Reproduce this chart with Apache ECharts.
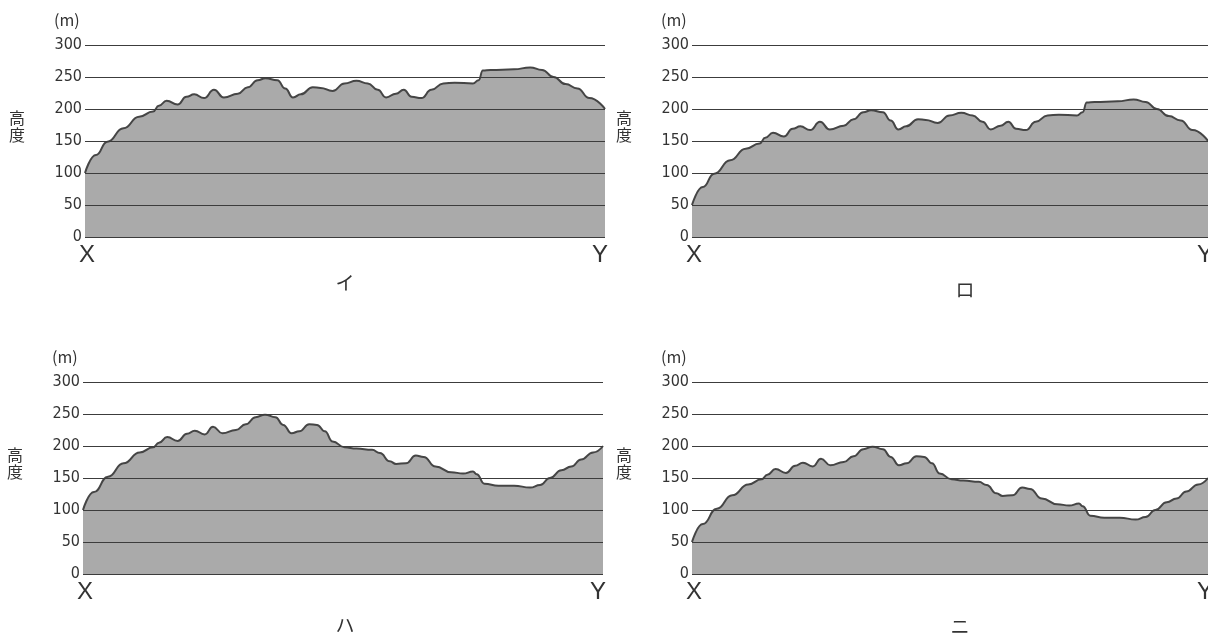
<!DOCTYPE html>
<html>
<head>
<meta charset="utf-8">
<script src="https://cdn.jsdelivr.net/npm/echarts@6/dist/echarts.min.js"></script>
<style>
html,body{margin:0;padding:0;background:#fff;}
#c{width:1208px;height:639px;}
</style>
</head>
<body>
<div id="c"></div>
<script>
// ---- data ----
var yTicks = [0, 50, 100, 150, 200, 250, 300];
var panelNames = ['イ', 'ロ', 'ハ', 'ニ'];
var distI = [0,2.1,4.3,7.4,10.4,13.1,14.2,15.7,17.8,19.5,21.0,22.9,24.8,26.7,29.4,31.3,33.2,34.7,37.0,38.5,40.0,41.5,43.8,45.3,47.6,49.9,52.2,54.4,56.3,57.9,59.8,61.3,62.8,64.7,66.6,68.9,71.1,74.6,75.7,76.5,78.0,82.5,85.6,87.9,90.1,92.4,94.7,97.0,100];
var heightI = [100,128,149,170,188,196,205,213,207,219,223,217,230,218,224,234,245,248,245,232,218,223,234,233,228,240,244,240,230,218,224,230,219,217,230,240,241,240,245,260,261,262,265,261,250,239,232,217,200];
var heightRo = [50,78,99,120,138,146,155,163,157,169,173,167,180,168,174,184,195,198,195,182,168,173,184,183,178,190,194,190,180,168,174,180,169,167,180,190,191,190,195,210,211,212,215,211,200,189,182,167,150];
var distHa = [0,2.1,4.8,7.8,10.9,13.5,14.6,16.2,18.2,20.0,21.5,23.4,25.0,26.8,29.4,31.3,33.2,35.0,37.0,38.5,40.1,41.6,43.5,45.0,46.5,48.0,50.3,52.6,55.6,57.1,59.0,60.2,62.1,64.0,65.5,67.8,70.8,73.1,75.0,75.7,77.2,79.9,82.9,86.0,87.9,89.8,92.0,93.9,95.8,98.1,100];
var heightHa = [100,128,152,173,190,198,205,214,208,219,224,218,230,220,225,234,245,249,245,233,220,223,234,233,223,207,198,196,194,189,176,172,173,185,183,168,159,157,160,156,141,138,138,135,139,150,162,168,179,190,200];
var heightNi = [50,78,102,123,140,148,155,164,158,169,174,168,180,170,175,184,195,199,195,183,170,173,184,183,173,157,148,146,144,139,126,122,123,135,133,118,109,107,110,106,91,88,88,85,89,100,112,118,129,140,150];

// ---- layout ----
var grids = [
  {left: 85, top: 45, width: 520, height: 192},
  {left: 692, top: 45, width: 518, height: 192},
  {left: 83, top: 382, width: 520, height: 192},
  {left: 692, top: 382, width: 518, height: 192}
];
var panels = [
  {dist: distI, h: heightI},
  {dist: distI, h: heightRo},
  {dist: distHa, h: heightHa},
  {dist: distHa, h: heightNi}
];

function pairs(d, h) { return d.map(function (x, i) { return [x, h[i]]; }); }

var xAxes = [], yAxes = [], series = [], graphics = [];
var labelFont = "'Liberation Sans Narrow','DejaVu Sans Condensed','Liberation Sans',sans-serif";
panels.forEach(function (p, i) {
  xAxes.push({type: 'value', gridIndex: i, min: 0, max: 100, show: false});
  yAxes.push({
    type: 'value', gridIndex: i, min: 0, max: 300, interval: 50,
    axisLine: {show: false}, axisTick: {show: false}, splitLine: {show: false},
    axisLabel: {margin: 3, color: '#333', fontSize: 16, fontFamily: labelFont}
  });
  series.push({
    type: 'line', xAxisIndex: i, yAxisIndex: i,
    data: pairs(p.dist, p.h),
    smooth: 0.5, smoothMonotone: 'x', symbol: 'none',
    lineStyle: {color: '#454545', width: 2},
    areaStyle: {color: '#aaaaaa', opacity: 1, origin: 'start'},
    markLine: {
      silent: true, symbol: ['none', 'none'], animation: false,
      label: {show: false},
      lineStyle: {color: '#3c3c3c', width: 1, type: 'solid'},
      data: yTicks.map(function (v) { return {yAxis: v}; })
    },
    animation: false
  });
  var g = grids[i];
  var tcol = '#333';
  graphics.push({type: 'text', style: {text: '(m)', x: g.left - 31, y: g.top - 25, fill: tcol, font: '16px "Noto Sans CJK JP"', textVerticalAlign: 'middle'}});
  graphics.push({type: 'text', style: {text: '高\n度', x: g.left - 68, y: g.top + 81, fill: tcol, font: '16px "Noto Sans CJK JP"', textAlign: 'center', textVerticalAlign: 'middle', lineHeight: 17}});
  graphics.push({type: 'text', style: {text: 'X', x: g.left + 2, y: g.top + 210, fill: tcol, font: '24px "Liberation Sans"', textAlign: 'center', textVerticalAlign: 'middle'}});
  graphics.push({type: 'text', style: {text: 'Y', x: g.left + g.width - 5, y: g.top + 210, fill: tcol, font: '24px "Liberation Sans"', textAlign: 'center', textVerticalAlign: 'middle'}});
});
graphics.push({type: 'text', style: {text: panelNames[0], x: 345, y: 283, fill: '#333', font: '19px "Noto Sans CJK JP"', textAlign: 'center', textVerticalAlign: 'middle'}});
graphics.push({type: 'text', style: {text: panelNames[1], x: 965, y: 290, fill: '#333', font: '19px "Noto Sans CJK JP"', textAlign: 'center', textVerticalAlign: 'middle'}});
graphics.push({type: 'text', style: {text: panelNames[2], x: 345, y: 625, fill: '#333', font: '19px "Noto Sans CJK JP"', textAlign: 'center', textVerticalAlign: 'middle'}});
graphics.push({type: 'text', style: {text: panelNames[3], x: 960, y: 627, fill: '#333', font: '19px "Noto Sans CJK JP"', textAlign: 'center', textVerticalAlign: 'middle'}});

var chart = echarts.init(document.getElementById('c'));
chart.setOption({
  backgroundColor: '#fff',
  animation: false,
  grid: grids,
  xAxis: xAxes,
  yAxis: yAxes,
  series: series,
  graphic: graphics
});
</script>
</body>
</html>
